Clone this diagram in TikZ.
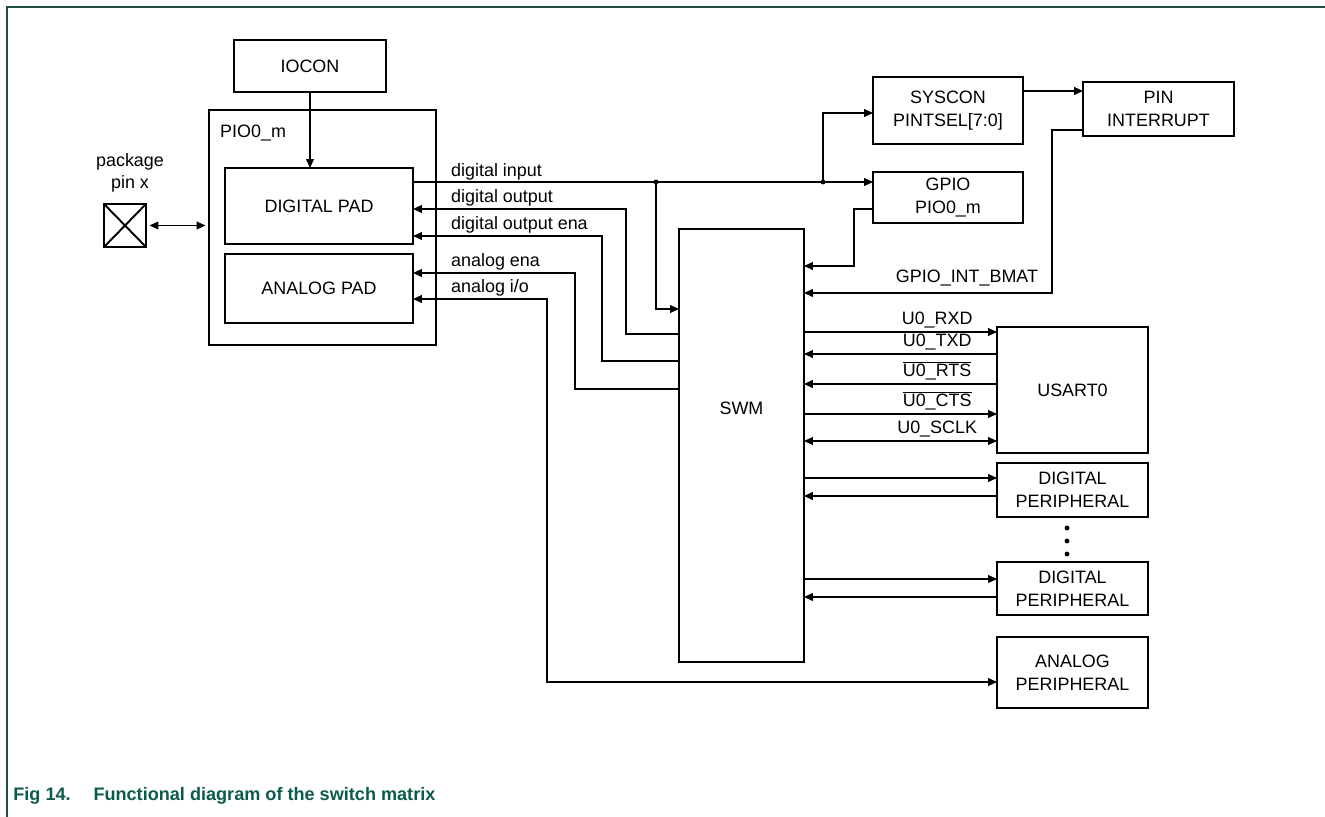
\documentclass[tikz,border=0pt]{standalone}
\usepackage{fontspec}
\setmainfont{Liberation Sans}
\usetikzlibrary{arrows.meta}
\definecolor{NxpTeal}{HTML}{0B5B4C}
\definecolor{NxpFrame}{HTML}{1F4D46}
\colorlet{CaptionText}{NxpTeal}
\colorlet{FrameLine}{NxpFrame}

\tikzset{
  blk/.style 2 args={draw, line width=1.25pt, inner sep=0pt, outer sep=0pt,
    minimum width=#1*0.02cm, minimum height=#2*0.02cm, align=center},
  wire/.style={line width=0.6pt, >={Triangle[length=5pt,width=4.4pt]}},
  sig/.style={anchor=base west},
  siglab/.style={pos=.69, anchor=base, yshift=4pt},
}

\begin{document}
\begin{tikzpicture}[x=0.02cm, y=-0.02cm, font=\fontsize{10.2}{13}\selectfont]

    \useasboundingbox (0,0) rectangle (1325,817);

    % Frame
    \draw[FrameLine, line width=0.7pt] (7,817) -- (7,7) -- (1325,7);

    % Pin and pad cell
    \node[blk={42}{43}] (pin) at (125,225.5) {};
    \draw[line width=1.1pt] (pin.north west) -- (pin.south east) (pin.north east) -- (pin.south west);
    \node[align=center, font=\fontsize{10.2}{12.5}\selectfont] (pinlab) at (130,173) {package\\pin x};
    \node[blk={152}{52}] (iocon) at (310,66) {IOCON};
    \node[blk={227}{235}] (pio) at (322.5,227.5) {};
    \node[anchor=base west] (piolab) at (214,138) {PIO0\_m};
    \node[blk={188}{76}] (dpad) at (319,206) {DIGITAL PAD};
    \node[blk={188}{69}] (apad) at (319,288.5) {ANALOG PAD};

    % Switch matrix
    \node[blk={125}{433}] (swm) at (741.5,445.5) {};
    \node (swmlab) at (741.5,408) {SWM};

    % Peripherals
    \node[blk={150}{67}] (syscon) at (948,110.5) {SYSCON\\PINTSEL[7:0]};
    \node[blk={151}{54}] (pinint) at (1158.5,109) {PIN\\INTERRUPT};
    \node[blk={150}{51}] (gpio) at (948,197.5) {GPIO\\PIO0\_m};
    \node[blk={151}{126}] (usart) at (1072.5,390) {USART0};
    \node[blk={151}{54}] (dper1) at (1072.5,490) {DIGITAL\\PERIPHERAL};
    \node[blk={151}{53}] (dper2) at (1072.5,588.5) {DIGITAL\\PERIPHERAL};
    \node[blk={151}{71}] (aper) at (1072.5,672.5) {ANALOG\\PERIPHERAL};
    \foreach \y in {528,541,554}
        \fill (1067,\y) circle (1.4pt);

    % Pad connections
    \draw[wire,<->, shorten <=2pt, shorten >=2pt] (pin.east) -- (pio.west |- pin.east);
    \draw[wire,->] (iocon.south) -- (dpad.north -| iocon.south);

    % Digital input fan-out
    \coordinate (j1) at (656,182);
    \coordinate (j2) at (823,182);
    \draw[wire,->] (dpad.east |- j1) -- (j1) -- (j2) -- (gpio.west |- j2);
    \draw[wire,->] (j2) |- (syscon.west |- 0,113);
    \draw[wire,->] (j1) |- (swm.west |- 0,309);
    \fill (j1) circle (1.4pt) (j2) circle (1.4pt);

    % Outputs back to the pads
    \foreach \pad/\ya/\xb/\yb in {dpad/209/626/334, dpad/236/602/361, apad/273/575/389}
        \draw[wire,<-] (\pad.east |- 0,\ya) -| (\xb,\yb) -- (swm.west |- 0,\yb);
    \draw[wire,<->] (apad.east |- 0,299) -| (547,682) -- (aper.west |- 0,682);

    \node[sig] (ldi) at (445,177) {digital input};
    \node[sig] (ldo) at (445,203) {digital output};
    \node[sig] (ldoe) at (445,230) {digital output ena};
    \node[sig] (lae) at (445,267) {analog ena};
    \node[sig] (laio) at (445,293) {analog i/o};

    % GPIO and interrupt feedback
    \draw[wire,->] (syscon.east |- 0,91) -- (pinint.west |- 0,91);
    \draw[wire,->] (gpio.west |- 0,209) -| (854,266) -- (swm.east |- 0,266);
    \draw[wire,->] (pinint.west |- 0,130) -| (1052,293) -- (swm.east |- 0,293);
    \node[anchor=base] (lint) at (967,283) {GPIO\_INT\_BMAT};

    % USART0 signals
    \foreach \y/\lab in {332/U0\_RXD, 414/$\overline{\mbox{U0\_CTS}}$}
        \draw[wire,->] (swm.east |- 0,\y) -- (usart.west |- 0,\y) node[siglab] {\lab};
    \foreach \y/\lab in {354/U0\_TXD, 384/$\overline{\mbox{U0\_RTS}}$}
        \draw[wire,<-] (swm.east |- 0,\y) -- (usart.west |- 0,\y) node[siglab] {\lab};
    \draw[wire,<->] (swm.east |- 0,441) -- (usart.west |- 0,441) node[siglab] {U0\_SCLK};

    % Other digital peripherals
    \foreach \nd/\ya/\yb in {dper1/478/496, dper2/579/597} {
        \draw[wire,->] (swm.east |- 0,\ya) -- (\nd.west |- 0,\ya);
        \draw[wire,<-] (swm.east |- 0,\yb) -- (\nd.west |- 0,\yb);
    }

    % Caption
    \node[anchor=base west, inner sep=0pt, CaptionText, font=\fontsize{10.3}{12}\selectfont\bfseries] (caption)
        at (13,800) {Fig 14.\hspace{13pt}Functional diagram of the switch matrix};

\end{tikzpicture}
\end{document}
